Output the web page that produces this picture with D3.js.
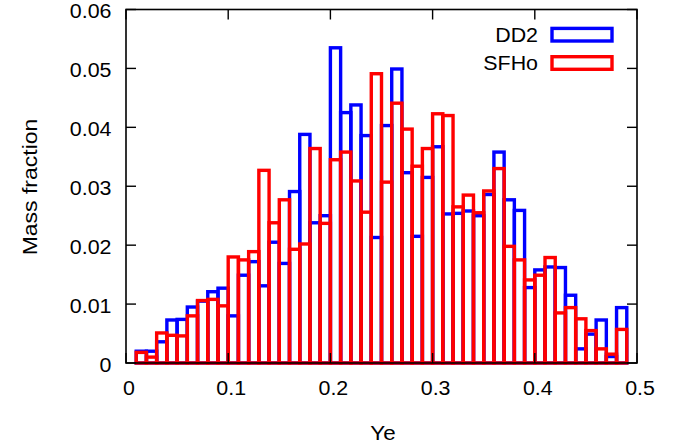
<!DOCTYPE html>
<html>
<head>
<meta charset="utf-8">
<script src="https://cdn.jsdelivr.net/npm/d3@7"></script>
<style>
html,body{margin:0;padding:0;background:#fff;}
svg{display:block;}
text{font-family:"Liberation Sans",Arial,Helvetica,sans-serif;fill:#000;}
</style>
</head>
<body>
<svg id="chart" width="686" height="446"></svg>
<script>
// Ye bin left edges (bin width 0.01)
const binLeft = [0.01,0.02,0.03,0.04,0.05,0.06,0.07,0.08,0.09,0.10,
  0.11,0.12,0.13,0.14,0.15,0.16,0.17,0.18,0.19,0.20,
  0.21,0.22,0.23,0.24,0.25,0.26,0.27,0.28,0.29,0.30,
  0.31,0.32,0.33,0.34,0.35,0.36,0.37,0.38,0.39,0.40,
  0.41,0.42,0.43,0.44,0.45,0.46,0.47,0.48];
const binWidth = 0.01;
const dd2 = [0.0020,0.0020,0.0036,0.0073,0.0074,0.0095,0.0105,0.0121,0.0127,0.0080,
  0.0149,0.0172,0.0131,0.0205,0.0169,0.0291,0.0388,0.0238,0.0250,0.0535,
  0.0425,0.0438,0.0386,0.0213,0.0403,0.0499,0.0323,0.0215,0.0315,0.0367,
  0.0253,0.0254,0.0258,0.0250,0.0286,0.0358,0.0277,0.0259,0.0128,0.0158,
  0.0163,0.0162,0.0115,0.0024,0.0049,0.0073,0.0011,0.0094];
const sfho = [0.0018,0.0010,0.0051,0.0047,0.0046,0.0080,0.0106,0.0108,0.0097,0.0180,
  0.0175,0.0189,0.0327,0.0238,0.0277,0.0193,0.0202,0.0364,0.0237,0.0345,
  0.0358,0.0309,0.0256,0.0491,0.0307,0.0441,0.0397,0.0334,0.0364,0.0423,
  0.0420,0.0265,0.0285,0.0255,0.0292,0.0330,0.0198,0.0175,0.0141,0.0149,
  0.0179,0.0085,0.0094,0.0075,0.0055,0.0024,0.0015,0.0057];
const seriesNames = ["DD2","SFHo"];
const seriesColors = ["#0000ff","#ff0000"];
const xTicks = [0,0.1,0.2,0.3,0.4,0.5];
const xTickLabels = ["0","0.1","0.2","0.3","0.4","0.5"];
const yTicks = [0,0.01,0.02,0.03,0.04,0.05,0.06];
const yTickLabels = ["0","0.01","0.02","0.03","0.04","0.05","0.06"];
const xTitle = "Ye";
const yTitle = "Mass fraction";

const svg = d3.select("#chart");
const L = 126, R = 637, T = 9.5, B = 363;
const x = d3.scaleLinear().domain([0,0.5]).range([L,R]);
const y = d3.scaleLinear().domain([0,0.06]).range([B,T]);
const SX = 1.07, FS = 20, SW = 3.4;

// bars
[dd2, sfho].forEach((vals, si) => {
  svg.append("g").selectAll("rect").data(vals).join("rect")
    .attr("x", (d,i) => x(binLeft[i]))
    .attr("width", (d,i) => x(binLeft[i]+binWidth) - x(binLeft[i]))
    .attr("y", d => y(d))
    .attr("height", d => y(0) - y(d))
    .attr("fill", "none")
    .attr("stroke", seriesColors[si])
    .attr("stroke-width", SW);
});

// border
svg.append("rect").attr("x", L).attr("y", T).attr("width", R-L).attr("height", B-T)
  .attr("fill","none").attr("stroke","#000").attr("stroke-width",1.6);

// ticks
const tk = 10;
const tg = svg.append("g").attr("stroke","#000").attr("stroke-width",1.4);
yTicks.forEach(v => {
  tg.append("line").attr("x1",L).attr("x2",L+tk).attr("y1",y(v)).attr("y2",y(v));
  tg.append("line").attr("x1",R).attr("x2",R-tk).attr("y1",y(v)).attr("y2",y(v));
});
xTicks.forEach(v => {
  tg.append("line").attr("x1",x(v)).attr("x2",x(v)).attr("y1",T).attr("y2",T+tk);
  tg.append("line").attr("x1",x(v)).attr("x2",x(v)).attr("y1",B).attr("y2",B-tk);
});

function txt(xp, yp, s, anchor, rot, sx) {
  return svg.append("text")
    .attr("transform", `translate(${xp},${yp})` + (rot ? ` rotate(${rot})` : "") + ` scale(${sx || SX},1)`)
    .attr("text-anchor", anchor)
    .attr("font-size", FS)
    .text(s);
}
yTicks.forEach((v,i) => txt(111.5, y(v)+8.8, yTickLabels[i], "end"));
xTicks.forEach((v,i) => txt(x(v)+3, 395, xTickLabels[i], "middle"));
txt(383, 440, xTitle, "middle", 0, 1.12);
txt(37, 187, yTitle, "middle", -90, 1.15);

// legend
const legY = [34.7, 63];
seriesNames.forEach((n,i) => {
  txt(538, legY[i]+7, n, "end");
  svg.append("rect").attr("x",552).attr("y",legY[i]-6.3).attr("width",60).attr("height",12.6)
    .attr("fill","none").attr("stroke",seriesColors[i]).attr("stroke-width",SW);
});
</script>
</body>
</html>
